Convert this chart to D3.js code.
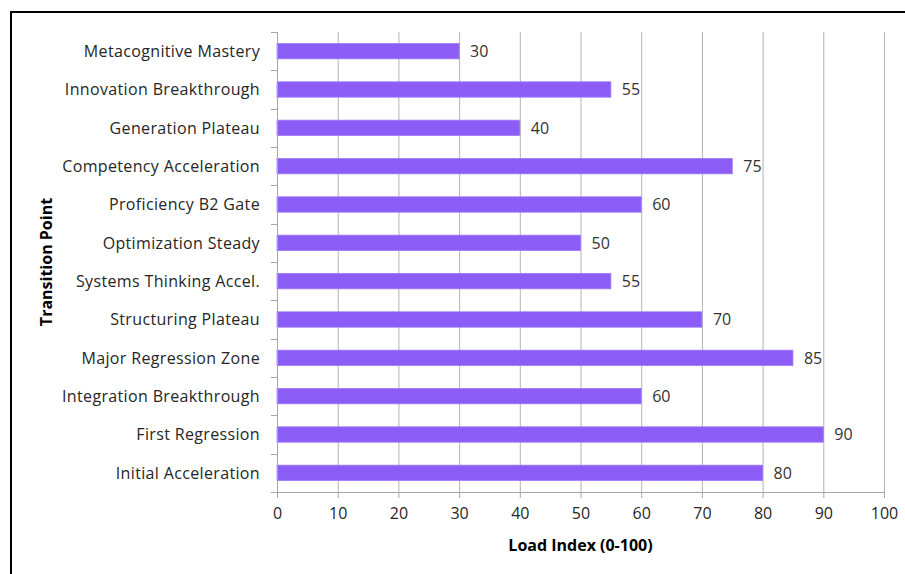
<!DOCTYPE html>
<html>
<head>
<meta charset="utf-8">
<script src="https://cdn.jsdelivr.net/npm/d3@7"></script>
<style>
  body { margin: 0; background: #fff; }
  svg { display: block; }
</style>
</head>
<body>
<script>
const categories = [
  "Metacognitive Mastery",
  "Innovation Breakthrough",
  "Generation Plateau",
  "Competency Acceleration",
  "Proficiency B2 Gate",
  "Optimization Steady",
  "Systems Thinking Accel.",
  "Structuring Plateau",
  "Major Regression Zone",
  "Integration Breakthrough",
  "First Regression",
  "Initial Acceleration"
];
const values = [30, 55, 40, 75, 60, 50, 55, 70, 85, 60, 90, 80];
const xTicks = [0, 10, 20, 30, 40, 50, 60, 70, 80, 90, 100];

const W = 905, H = 574;
const margin = { top: 32, right: 21, bottom: 82, left: 277 };
const width = W - margin.left - margin.right,
  height = H - margin.top - margin.bottom;

const font = "'Open Sans', Lato, sans-serif";

const root = d3.select("body").append("svg")
  .attr("width", W)
  .attr("height", H);

// outer frame
root.append("path")
  .attr("d", `M11,${H} V12 H${W}`)
  .attr("fill", "none")
  .attr("stroke", "#000")
  .attr("stroke-width", 2);

const svg = root.append("g")
  .attr("transform", `translate(${margin.left},${margin.top})`);

const x = d3.scaleLinear().domain([0, 100]).range([0, width]);
const y = d3.scaleBand().domain(categories).range([0, height]).paddingInner(0.6).paddingOuter(0.3);

// gridlines
svg.append("g")
  .selectAll("line")
  .data(xTicks.slice(1))
  .join("line")
  .attr("x1", d => x(d) + 0.5)
  .attr("x2", d => x(d) + 0.5)
  .attr("y1", 0)
  .attr("y2", height)
  .attr("stroke", "#b3b3b3");

// bars
svg.append("g")
  .selectAll("rect")
  .data(categories)
  .join("rect")
  .attr("x", 0)
  .attr("y", d => y(d))
  .attr("width", (d, i) => x(values[i]))
  .attr("height", y.bandwidth())
  .attr("fill", "#8b5cf6")
  .attr("stroke", "#9d78f5")
  .attr("stroke-width", 0.8);

// value labels
svg.append("g")
  .selectAll("text")
  .data(categories)
  .join("text")
  .attr("x", (d, i) => x(values[i]) + 11)
  .attr("y", d => y(d) + y.bandwidth() / 2)
  .attr("dy", "0.36em")
  .attr("font-family", font)
  .attr("font-size", 16)
  .attr("fill", "#333")
  .text((d, i) => values[i]);

// y axis: line with ticks at band boundaries
const yAxis = svg.append("g");
yAxis.append("line")
  .attr("x1", 0.5).attr("x2", 0.5)
  .attr("y1", 0).attr("y2", height)
  .attr("stroke", "#a6a6a6");
yAxis.selectAll("line.tick")
  .data(d3.range(categories.length + 1))
  .join("line")
  .attr("class", "tick")
  .attr("x1", -6).attr("x2", 0.5)
  .attr("y1", i => Math.round(i * (height / categories.length)) + 0.5)
  .attr("y2", i => Math.round(i * (height / categories.length)) + 0.5)
  .attr("stroke", "#a6a6a6");
yAxis.selectAll("text")
  .data(categories)
  .join("text")
  .attr("x", -17)
  .attr("y", d => y(d) + y.bandwidth() / 2)
  .attr("dy", "0.36em")
  .attr("text-anchor", "end")
  .attr("font-family", font)
  .attr("font-size", 16)
  .attr("letter-spacing", "0.35px")
  .attr("fill", "#262626")
  .text(d => d);

// x axis
const xAxis = svg.append("g")
  .attr("transform", `translate(0,${height})`)
  .call(d3.axisBottom(x).tickValues(xTicks).tickSize(6).tickPadding(10));
xAxis.select(".domain").attr("stroke", "#a6a6a6");
xAxis.selectAll(".tick line").attr("stroke", "#a6a6a6");
xAxis.selectAll(".tick text")
  .attr("font-family", font)
  .attr("font-size", 16)
  .attr("fill", "#262626");

// axis titles
svg.append("text")
  .attr("x", width / 2)
  .attr("y", height + 59)
  .attr("text-anchor", "middle")
  .attr("font-family", font)
  .attr("font-size", 16)
  .attr("font-weight", "bold")
  .attr("fill", "#000")
  .text("Load Index (0-100)");

svg.append("text")
  .attr("transform", `translate(${-225},${height / 2}) rotate(-90)`)
  .attr("text-anchor", "middle")
  .attr("font-family", font)
  .attr("font-size", 16)
  .attr("font-weight", "bold")
  .attr("fill", "#000")
  .text("Transition Point");
</script>
</body>
</html>
